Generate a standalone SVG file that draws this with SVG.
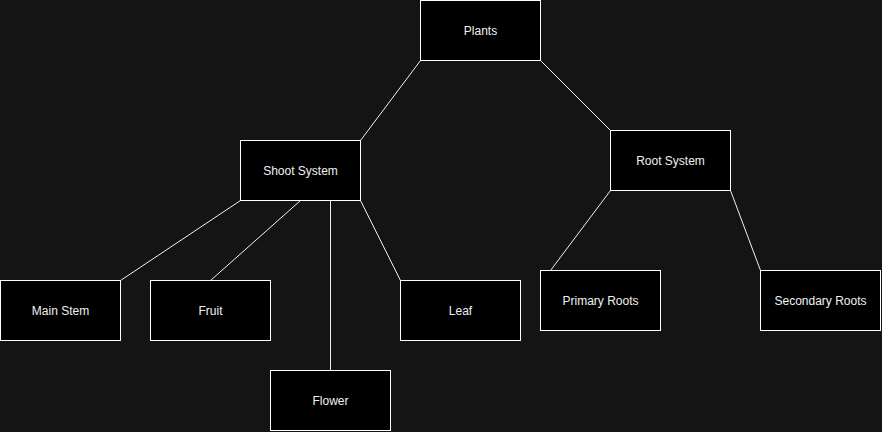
<svg xmlns="http://www.w3.org/2000/svg" width="882" height="432" viewBox="0 0 882 432">
<style>
.n rect{fill:#000;stroke:#fff;stroke-width:1}
.n text{fill:#f0f0f0;font-family:"Liberation Sans",Arial,sans-serif;font-size:12px;text-anchor:middle;dominant-baseline:central}
#edges line{stroke:#f0f0f0;stroke-width:1}
</style>
<rect width="882" height="432" fill="#141414"/>
<g id="edges">
<line x1="420.5" y1="60.5" x2="360.5" y2="140.5"/>
<line x1="540.5" y1="60.5" x2="610.5" y2="130.5"/>
<line x1="240.5" y1="200.5" x2="120.5" y2="280.5"/>
<line x1="300.5" y1="200.5" x2="210.5" y2="280.5"/>
<line x1="330.5" y1="200.5" x2="330.5" y2="370.5"/>
<line x1="360.5" y1="200.5" x2="400.5" y2="280.5"/>
<line x1="610.5" y1="190.5" x2="550.5" y2="270.5"/>
<line x1="730.5" y1="190.5" x2="760.5" y2="270.5"/>
</g>
<g id="plants" class="n"><rect x="420.5" y="0.5" width="120" height="60"/><text x="480.5" y="30.5">Plants</text></g>
<g id="shoot" class="n"><rect x="240.5" y="140.5" width="120" height="60"/><text x="300.5" y="170.5">Shoot System</text></g>
<g id="root" class="n"><rect x="610.5" y="130.5" width="120" height="60"/><text x="670.5" y="160.5">Root System</text></g>
<g id="mainstem" class="n"><rect x="0.5" y="280.5" width="120" height="60"/><text x="60.5" y="310.5">Main Stem</text></g>
<g id="fruit" class="n"><rect x="150.5" y="280.5" width="120" height="60"/><text x="210.5" y="310.5">Fruit</text></g>
<g id="flower" class="n"><rect x="270.5" y="370.5" width="120" height="60"/><text x="330.5" y="400.5">Flower</text></g>
<g id="leaf" class="n"><rect x="400.5" y="280.5" width="120" height="60"/><text x="460.5" y="310.5">Leaf</text></g>
<g id="primary" class="n"><rect x="540.5" y="270.5" width="120" height="60"/><text x="600.5" y="300.5">Primary Roots</text></g>
<g id="secondary" class="n"><rect x="760.5" y="270.5" width="120" height="60"/><text x="820.5" y="300.5">Secondary Roots</text></g>
</svg>
